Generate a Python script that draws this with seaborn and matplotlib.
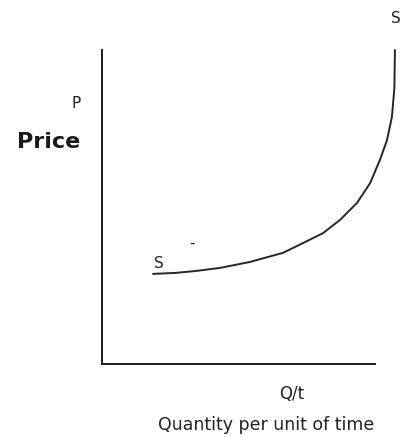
import matplotlib
matplotlib.use("Agg")
import matplotlib.pyplot as plt
import seaborn as sns
import pandas as pd

# Supply curve: quantity per unit of time vs price (axis units 0-100)
quantity = [18.7, 26.7, 34.1, 43.2, 54.2, 66.3, 73.6, 81.0, 87.2, 93.4,
            98.2, 101.8, 104.4, 106.2, 107.1, 107.3]
price = [28.7, 29.0, 29.6, 30.6, 32.5, 35.4, 38.5, 41.7, 45.9, 51.3,
         57.6, 65.0, 71.3, 78.7, 87.9, 100.0]

curve_label = "S"
y_symbol = "P"
y_name = "Price"
x_symbol = "Q/t"
x_name = "Quantity per unit of time"

sns.set_style("white")
plt.rcParams["font.family"] = ["DejaVu Sans"]

W, H = 401, 437
fig = plt.figure(figsize=(W / 100, H / 100), dpi=100)
ax = fig.add_axes([102 / W, (H - 364) / H, (375 - 102) / W, (364 - 50) / H])

df = pd.DataFrame({"Q": quantity, "P": price})
sns.lineplot(data=df, x="Q", y="P", sort=False, estimator=None,
             color="#262626", linewidth=1.4, ax=ax, clip_on=False)

ax.set_xlim(0, 100)
ax.set_ylim(0, 100)
ax.set_xticks([])
ax.set_yticks([])
ax.set_xlabel("")
ax.set_ylabel("")
for side in ("top", "right"):
    ax.spines[side].set_visible(False)
for side in ("left", "bottom"):
    ax.spines[side].set_color("#1a1a1a")
    ax.spines[side].set_linewidth(1.4)

# Curve end labels
ax.text(quantity[0] + 2.0, price[0] + 0.8, curve_label, fontsize=11,
        ha="center", va="bottom", color="#222222")
ax.text(quantity[-1] + 0.2, price[-1] + 7.5, curve_label, fontsize=11,
        ha="center", va="bottom", color="#222222", clip_on=False)
ax.text(33.0, 38.5, "-", fontsize=11, ha="center", va="center", color="#222222")

# Axis captions
fig.text(76 / W, 1 - 103 / H, y_symbol, fontsize=11, ha="center", va="center",
         color="#222222")
fig.text(49 / W, 1 - 142 / H, y_name, fontsize=16, fontweight="bold",
         ha="center", va="center", color="#1a1a1a")
fig.text(292 / W, 1 - 394 / H, x_symbol, fontsize=12, ha="center", va="center",
         color="#222222")
fig.text(266 / W, 1 - 425 / H, x_name, fontsize=12.5, ha="center", va="center",
         color="#222222")

fig.savefig("out.png", dpi=100, facecolor="white")
